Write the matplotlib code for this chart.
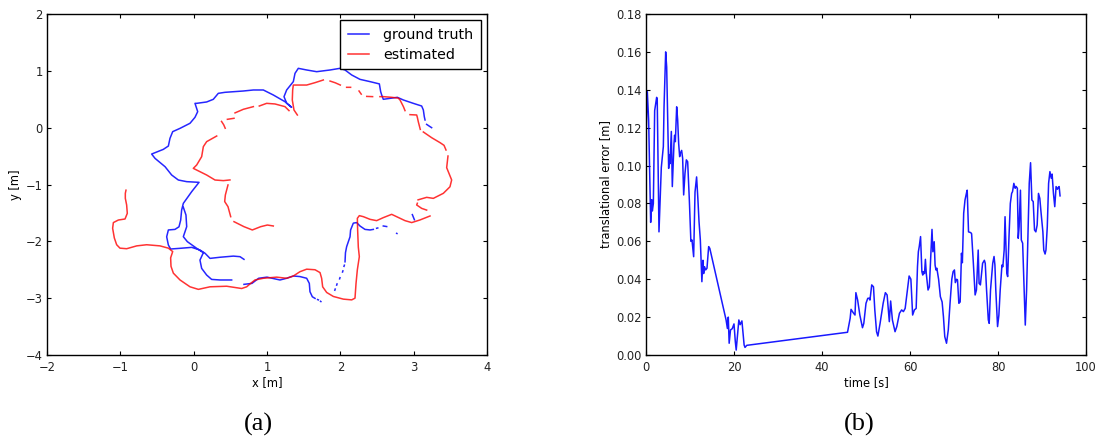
import numpy as np
import matplotlib
matplotlib.use("Agg")
import matplotlib.pyplot as plt

nan = np.nan

# ---- (a) trajectories in the plane, NaN marks a tracking gap ----
gt_x = [3.245, 3.223, 3.177, nan,
        3.155, 3.145, 3.132, 3.109, 2.995, 2.86, 2.777, 2.677, 2.586, 2.564, 2.55, 2.532,
        2.405, 2.268, 2.155, 2.064, 1.995, 1.86, 1.677, 1.541, 1.427, 1.382, 1.359, 1.268,
        1.232, 1.268, 1.336, 1.245, 1.086, 0.95, 0.814, 0.677, 0.427, 0.336, 0.268, 0.177,
        0.041, 0.018, 0.055, 0.018, -0.05, -0.186, -0.286, -0.323, -0.345, -0.414, -0.573,
        -0.527, -0.39, -0.3, -0.209, -0.095, 0.073, -0.027, -0.141, -0.164, -0.177, -0.2,
        -0.255, -0.345, -0.368, -0.345, -0.314, -0.186, -0.027, 0.086, 0.155, 0.223, 0.36,
        0.541, 0.632, 0.686, nan,
        -0.141, -0.105, -0.095, -0.141, -0.086, 0.041, 0.132, 0.086, 0.109, 0.177, 0.245,
        0.36, 0.518, nan,
        0.686, 0.795, 0.886, 1.0, 1.177, 1.268, 1.359, 1.45, 1.541, 1.577, 1.586, 1.618,
        1.655, nan, 1.69, 1.70, nan, 1.73, 1.735, nan,
        1.925, 1.93, nan, 1.95, 1.955, nan, 1.99, 1.995, nan, 2.03, 2.035, nan,
        2.05, 2.055, nan,
        2.064, 2.07, 2.086, 2.11, 2.132, 2.14, 2.177, 2.223, 2.268, 2.336, 2.405, 2.45, nan,
        2.495, 2.51, nan, 2.586, 2.632, nan, 2.768, 2.772, nan, 2.982, 3.01]
gt_y = [0.0, 0.018, 0.058, nan,
        0.135, 0.194, 0.311, 0.381, 0.428, 0.487, 0.534, 0.516, 0.499, 0.575, 0.634, 0.77,
        0.81, 0.85, 0.927, 1.015, 1.044, 1.015, 0.985, 1.015, 1.044, 0.956, 0.81, 0.663,
        0.545, 0.43, 0.358, 0.457, 0.575, 0.663, 0.663, 0.645, 0.622, 0.604, 0.499, 0.452,
        0.428, 0.428, 0.282, 0.182, 0.077, -0.012, -0.07, -0.188, -0.323, -0.382, -0.464,
        -0.54, -0.687, -0.833, -0.921, -0.95, -0.962, -1.126, -1.332, -1.45, -1.626, -1.744,
        -1.79, -1.80, -1.92, -2.065, -2.135, -2.123, -2.106, -2.153, -2.21, -2.30, -2.28,
        -2.26, -2.27, -2.317, nan,
        -1.40, -1.537, -1.742, -1.918, -2.006, -2.123, -2.2, -2.33, -2.476, -2.593, -2.67,
        -2.68, -2.68, nan,
        -2.757, -2.74, -2.65, -2.63, -2.68, -2.65, -2.61, -2.62, -2.65, -2.74, -2.886, -2.975,
        -3.004, nan, -3.025, -3.03, nan, -3.055, -3.06, nan,
        -2.86, -2.84, nan, -2.77, -2.75, nan, -2.66, -2.64, nan, -2.54, -2.52, nan,
        -2.44, -2.42, nan,
        -2.36, -2.2, -2.094, -2.0, -1.92, -1.80, -1.68, -1.67, -1.73, -1.79, -1.80, -1.79, nan,
        -1.77, -1.765, nan, -1.73, -1.74, nan, -1.86, -1.862, nan, -1.53, -1.62]

est_x = [-0.923, -0.932, -0.932, -0.914, -0.905, -0.936, -1.027, -1.095, -1.105, -1.082,
         -1.05, -1.005, -0.914, -0.777, -0.641, -0.459, -0.345, -0.286, -0.314, -0.309,
         -0.277, -0.186, -0.05, 0.064, 0.223, 0.45, 0.655, 0.723, 0.777, 0.836, 0.95, 1.132,
         1.268, 1.359, 1.45, 1.541, 1.655, 1.723, 1.745, 1.759, 1.814, 1.905, 2.041, 2.155,
         2.2, 2.214, 2.232, 2.259, 2.245, 2.236, 2.232, 2.259, 2.314, 2.405, 2.495, 2.586,
         2.7, 2.768, 2.882, 2.973, 3.086, 3.223, nan,
         3.177, 3.109, 3.041, 3.05, nan,
         3.06, 3.086, 3.177, 3.268, 3.405, 3.495, 3.518, 3.473, 3.45, 3.468, nan,
         3.441, 3.414, 3.36, 3.245, 3.132, nan,
         3.09, 3.064, 3.05, 3.041, 2.95, nan,
         2.882, 2.86, 2.814, 2.79, 2.70, 2.586, 2.54, nan,
         2.44, 2.36, nan,
         2.285, 2.255, nan,
         2.14, 2.086, nan,
         2.0, 1.93, 1.86, nan,
         1.768, 1.655, 1.541, 1.45, 1.359, 1.35, 1.345, 1.368, 1.414, nan,
         1.30, 1.245, 1.109, 0.995, 0.895, nan,
         0.814, 0.677, 0.564, nan,
         0.55, 0.50, 0.46, nan,
         0.43, 0.41, 0.38, nan,
         0.314, 0.177, 0.132, 0.109, 0.041, -0.005, 0.086, 0.177, 0.291, 0.405, 0.495, nan,
         0.468, 0.432, 0.423, 0.468, 0.505, nan,
         0.55, 0.686, 0.8, 0.914, 1.005, 1.086]
est_y = [-1.10, -1.155, -1.243, -1.36, -1.507, -1.607, -1.625, -1.67, -1.77, -1.94,
         -2.06, -2.12, -2.13, -2.08, -2.06, -2.08, -2.12, -2.18, -2.29, -2.44,
         -2.56, -2.68, -2.80, -2.845, -2.80, -2.79, -2.83, -2.80, -2.74, -2.68, -2.65, -2.63,
         -2.65, -2.61, -2.534, -2.49, -2.50, -2.55, -2.65, -2.80, -2.90, -2.97, -3.017, -3.03,
         -3.0, -2.74, -2.5, -2.27, -2.1, -1.8, -1.595, -1.548, -1.566, -1.613, -1.636, -1.583,
         -1.525, -1.566, -1.636, -1.67, -1.624, -1.554, nan,
         -1.45, -1.42, -1.36, -1.33, nan,
         -1.27, -1.26, -1.226, -1.244, -1.155, -1.04, -0.92, -0.774, -0.704, -0.499, nan,
         -0.393, -0.311, -0.264, -0.176, -0.076, nan,
         -0.03, 0.10, 0.182, 0.223, 0.229, nan,
         0.30, 0.37, 0.487, 0.52, 0.534, 0.546, 0.546, nan,
         0.546, 0.55, nan,
         0.59, 0.645, nan,
         0.71, 0.71, nan,
         0.75, 0.79, 0.82, nan,
         0.839, 0.792, 0.75, 0.75, 0.75, 0.663, 0.487, 0.311, 0.223, nan,
         0.30, 0.37, 0.417, 0.428, 0.381, nan,
         0.37, 0.323, 0.26, nan,
         0.165, 0.155, 0.147, nan,
         -0.01, 0.05, 0.11, nan,
         -0.147, -0.246, -0.334, -0.51, -0.657, -0.716, -0.774, -0.833, -0.921, -0.932, -0.92, nan,
         -1.008, -1.185, -1.30, -1.39, -1.566, nan,
         -1.654, -1.742, -1.80, -1.742, -1.713, -1.73]

# ---- (b) translational error over time ----
time_s = [0.0, 0.3, 0.6, 0.9, 1.06, 1.29, 1.44, 1.67, 1.97, 2.42, 2.55, 2.95, 3.48, 3.94,
          4.1, 4.47, 4.7, 5.15, 5.3, 5.45, 5.76, 5.98, 6.36, 6.5, 6.67, 6.97, 7.2, 7.42,
          7.65, 7.8, 8.1, 8.33, 8.56, 8.86, 9.17, 9.47, 9.85, 10.2, 10.45, 10.83, 11.14,
          11.5, 11.8, 12.05, 12.35, 12.7, 12.95, 13.1, 13.3, 13.56, 13.86, 14.24, 14.5,
          18.2, 18.5, 18.7, 18.9, 19.2, 19.6, 20.0, 20.3, 20.5, 20.9, 21.1, 21.4, 21.8,
          22.3, 22.5, 22.9, 45.8, 46.4, 46.6, 47.1, 47.5, 47.7, 48.1, 48.6, 49.2, 49.5,
          50.0, 50.4, 50.7, 50.9, 51.3, 51.7, 52.0, 52.4, 52.7, 53.2, 53.9, 54.4, 54.8,
          55.3, 55.6, 56.0, 56.6, 57.0, 57.6, 58.1, 58.5, 58.9, 59.4, 59.8, 60.2, 60.4,
          60.6, 61.0, 61.4, 61.7, 61.9, 62.1, 62.4, 62.7, 62.9, 63.0, 63.3, 63.5, 63.7,
          64.1, 64.4, 64.8, 65.0, 65.2, 65.5, 65.7, 65.9, 66.1, 66.5, 66.9, 67.3, 67.6,
          67.9, 68.3, 68.7, 69.1, 69.5, 69.8, 70.1, 70.3, 70.6, 70.8, 71.1, 71.4, 71.7,
          71.9, 72.2, 72.5, 72.9, 73.0, 73.3, 73.8, 74.0, 74.4, 74.8, 75.1, 75.5, 75.7,
          76.0, 76.5, 76.9, 77.1, 77.4, 77.8, 78.0, 78.3, 78.8, 79.1, 79.3, 79.5, 79.9,
          80.2, 80.5, 80.9, 81.1, 81.4, 81.6, 82.0, 82.2, 82.5, 82.8, 83.1, 83.3, 83.6,
          83.9, 84.1, 84.4, 84.6, 84.8, 85.1, 85.3, 85.6, 85.9, 86.2, 86.5, 86.8, 87.1,
          87.4, 87.7, 88.0, 88.3, 88.6, 88.9, 89.2, 89.5, 89.8, 90.2, 90.4, 90.7, 90.9,
          91.2, 91.5, 91.8, 92.1, 92.3, 92.6, 92.9, 93.2, 93.5, 93.7, 93.9, 94.1]
trans_err = [0.115, 0.139, 0.124, 0.089, 0.070, 0.082, 0.076, 0.080, 0.129, 0.136, 0.135,
             0.065, 0.099, 0.110, 0.131, 0.160, 0.152, 0.0985, 0.1056, 0.101, 0.118, 0.0889,
             0.1117, 0.116, 0.1126, 0.131, 0.124, 0.1117, 0.1047, 0.1065, 0.108, 0.1038,
             0.0845, 0.0959, 0.103, 0.102, 0.0818, 0.060, 0.0607, 0.0519, 0.086, 0.094,
             0.082, 0.0704, 0.0607, 0.0387, 0.050, 0.043, 0.0466, 0.0449, 0.0458, 0.0572,
             0.0563, 0.0185, 0.014, 0.020, 0.0062, 0.0132, 0.0139, 0.0164, 0.0070, 0.0026,
             0.0132, 0.0185, 0.016, 0.018, 0.0053, 0.0040, 0.0051, 0.012, 0.0194, 0.0241,
             0.0223, 0.0211, 0.0329, 0.029, 0.0211, 0.0144, 0.0167, 0.0273, 0.0299, 0.030,
             0.029, 0.037, 0.036, 0.0238, 0.0123, 0.010, 0.0167, 0.0273, 0.0329, 0.0317,
             0.0176, 0.0285, 0.0185, 0.0123, 0.015, 0.022, 0.0238, 0.0229, 0.0246, 0.0343,
             0.0417, 0.040, 0.0308, 0.0211, 0.0238, 0.0246, 0.0466, 0.0545, 0.0572, 0.0625,
             0.044, 0.0422, 0.044, 0.043, 0.0505, 0.043, 0.0343, 0.036, 0.0563, 0.0663,
             0.0545, 0.0598, 0.0475, 0.0449, 0.0458, 0.040, 0.0308, 0.028, 0.0202, 0.0097,
             0.0062, 0.0132, 0.0273, 0.040, 0.044, 0.0449, 0.0382, 0.040, 0.0396, 0.0273,
             0.028, 0.0537, 0.0487, 0.0748, 0.0818, 0.0862, 0.087, 0.065, 0.0646, 0.064,
             0.0484, 0.0317, 0.0343, 0.0554, 0.0378, 0.037, 0.0484, 0.050, 0.0484, 0.0343,
             0.0185, 0.0167, 0.0343, 0.0484, 0.052, 0.0475, 0.0343, 0.015, 0.021, 0.0343,
             0.0475, 0.0466, 0.0554, 0.073, 0.043, 0.0414, 0.0625, 0.080, 0.0853, 0.0862,
             0.0906, 0.088, 0.089, 0.088, 0.0616, 0.0677, 0.087, 0.0607, 0.059, 0.0378,
             0.0158, 0.0343, 0.0625, 0.0906, 0.1015, 0.0818, 0.081, 0.066, 0.065, 0.0686,
             0.0853, 0.0827, 0.0748, 0.065, 0.0554, 0.0533, 0.0554, 0.0677, 0.0906, 0.0968,
             0.0933, 0.0955, 0.0853, 0.0783, 0.0889, 0.0875, 0.0885, 0.0889, 0.084]

traj_xticks = [-2, -1, 0, 1, 2, 3, 4]
traj_yticks = [-4, -3, -2, -1, 0, 1, 2]
err_xticks = [0, 20, 40, 60, 80, 100]
err_yticks = [0.00, 0.02, 0.04, 0.06, 0.08, 0.10, 0.12, 0.14, 0.16, 0.18]

W, H = 1103, 443
fig = plt.figure(figsize=(W / 100, H / 100), dpi=100)

TICK = 8.3


def style_axes(ax):
    for s in ax.spines.values():
        s.set_linewidth(1.0)
        s.set_color("black")
    ax.tick_params(direction="in", top=True, right=True, length=3.2, width=0.8,
                   labelsize=TICK, colors="black", labelcolor="#222222")
    ax.tick_params(axis="x", pad=4)
    ax.tick_params(axis="y", pad=3)


# axes boxes in pixels: left, top, right, bottom
def box(l, t, r, b):
    return [l / W, 1 - b / H, (r - l) / W, (b - t) / H]


ax1 = fig.add_axes(box(47, 14, 487, 355))
ax1.plot(gt_x, gt_y, color="#0000ff", lw=1.1, alpha=0.85, label="ground truth")
ax1.plot(est_x, est_y, color="#ff0000", lw=1.1, alpha=0.8, label="estimated")
ax1.set_xlim(-2, 4)
ax1.set_ylim(-4, 2)
ax1.set_xticks(traj_xticks)
ax1.set_yticks(traj_yticks)
ax1.set_xlabel("x [m]", fontsize=TICK, labelpad=2)
ax1.set_ylabel("y [m]", fontsize=TICK, labelpad=3)
style_axes(ax1)
leg = ax1.legend(loc="upper right", fontsize=10.3, fancybox=False, framealpha=1,
                 edgecolor="black", handlelength=1.5, handletextpad=1.0,
                 borderpad=0.5, labelspacing=0.45, borderaxespad=0.45)
leg.get_frame().set_linewidth(1.0)

ax2 = fig.add_axes(box(646, 14, 1086, 355))
ax2.plot(time_s, trans_err, color="#0000ff", lw=1.1, alpha=0.9)
ax2.set_xlim(0, 100)
ax2.set_ylim(0, 0.18)
ax2.set_xticks(err_xticks)
ax2.set_yticks(err_yticks)
ax2.set_yticklabels([f"{v:.2f}" for v in err_yticks])
ax2.set_xlabel("time [s]", fontsize=TICK, labelpad=2)
ax2.set_ylabel("translational error [m]", fontsize=TICK, labelpad=3)
style_axes(ax2)

fig.text(258 / W, 1 - 424 / H, "(a)", ha="center", va="center",
         family="Liberation Serif", fontsize=19)
fig.text(859 / W, 1 - 424 / H, "(b)", ha="center", va="center",
         family="Liberation Serif", fontsize=19)

fig.savefig("out.png", dpi=100, facecolor="white")
